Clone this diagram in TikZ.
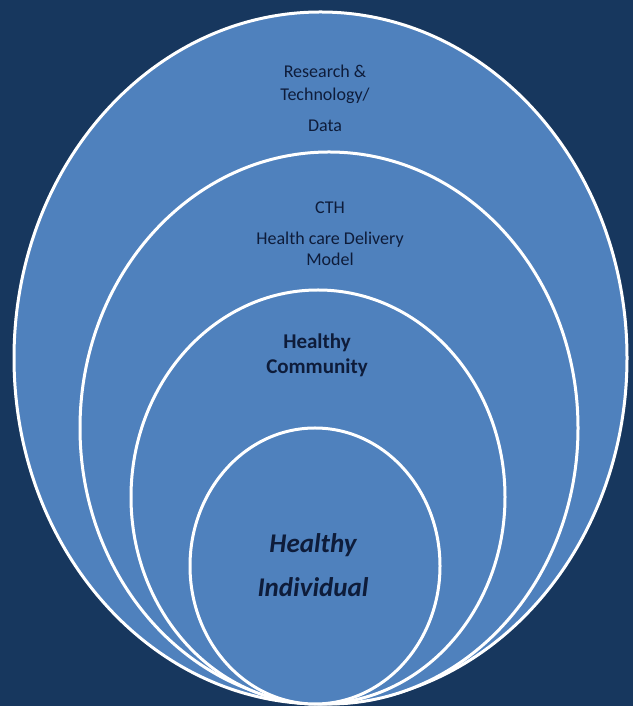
\documentclass[tikz,border=0pt]{standalone}
\usepackage{fontspec}
\setmainfont{Carlito}
\usetikzlibrary{shapes.geometric, positioning}

\definecolor{navybg}{RGB}{23, 55, 94}
\definecolor{ringblue}{RGB}{79, 129, 189}
\definecolor{inkblue}{RGB}{14, 28, 58}

\begin{document}
\begin{tikzpicture}[
  x=1pt, y=1pt,
  ring/.style={ellipse, draw=white, line width=3pt, fill=ringblue, inner sep=0pt},
  ringtext/.style={text=inkblue, align=center, inner sep=0pt}
]
  % backdrop
  \fill[navybg] (0,0) rectangle (633,706);
  \useasboundingbox (0,0) rectangle (633,706);

  % nested rings, all touching at the bottom
  \node[ring, minimum width=613pt, minimum height=692pt] (data) at (320.5, 348) {};
  \node[ring, minimum width=498pt, minimum height=552pt] (model) at (329, 278) {};
  \node[ring, minimum width=374pt, minimum height=414pt] (community) at (318, 209) {};
  \node[ring, minimum width=250pt, minimum height=276pt] (individual) at (315, 140) {};

  % labels
  \node[ringtext, font=\fontsize{18}{23}\selectfont] (datalabel) at (325, 608)
    {Research \&\\Technology/\\[8pt]Data};
  \node[ringtext, font=\fontsize{18}{21}\selectfont] (modellabel) at (330, 472)
    {CTH\\[10pt]Health care Delivery\\Model};
  \node[ringtext, font=\fontsize{21}{25}\selectfont\bfseries] (communitylabel) at (317, 350.5)
    {Healthy\\Community};
  \node[ringtext, font=\fontsize{27}{44}\selectfont\bfseries\itshape] (individuallabel) at (313, 141)
    {Healthy\\Individual};
\end{tikzpicture}
\end{document}
